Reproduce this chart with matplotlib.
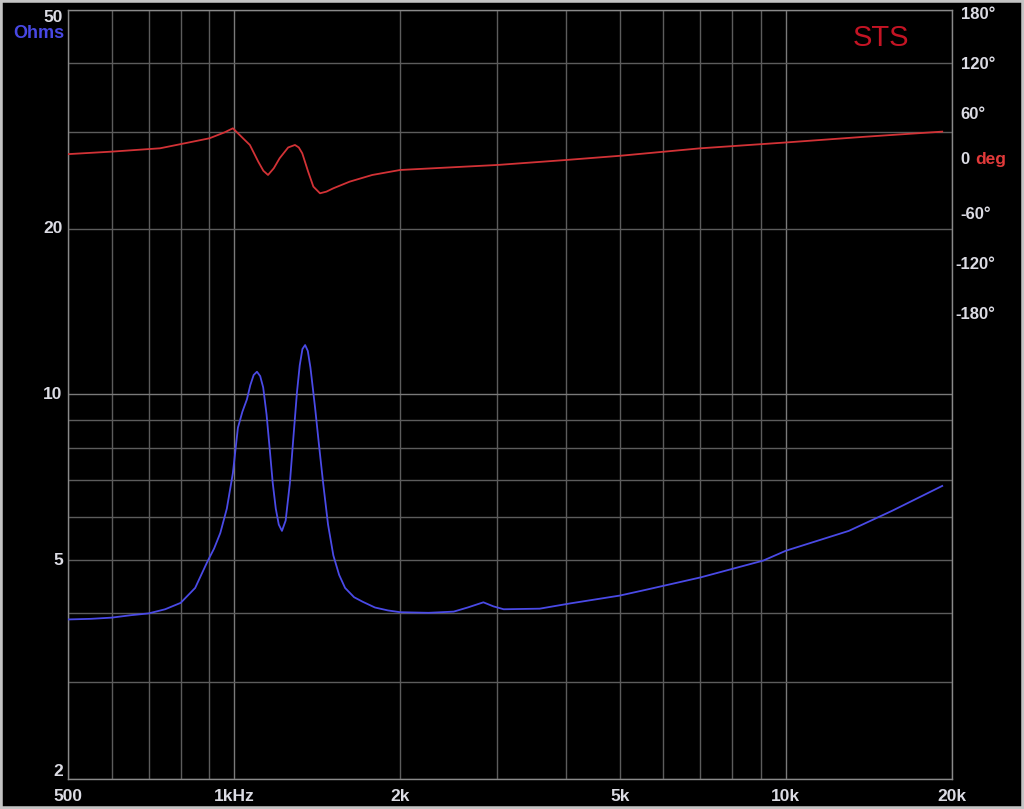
import matplotlib
matplotlib.use("Agg")
import matplotlib.pyplot as plt
from matplotlib.ticker import FixedLocator, NullFormatter, NullLocator
from matplotlib.patches import Rectangle
import matplotlib.transforms as mtransforms

# ---------------- data ----------------
imp_freq = [500, 550, 600, 650, 700, 750, 800, 850, 893, 920, 944, 970, 995,
            1016, 1035, 1055, 1070, 1085, 1100, 1115, 1129, 1145, 1161, 1175,
            1190, 1205, 1221, 1240, 1262, 1280, 1300, 1315, 1330, 1345, 1360,
            1375, 1390, 1403, 1425, 1450, 1480, 1513, 1550, 1589, 1650, 1710,
            1800, 1900, 2000, 2250, 2500, 2650, 2830, 2950, 3080, 3580, 4060,
            5000, 5600, 7000, 9100, 10000, 13000, 15600, 19200]
imp_ohm = [3.90, 3.91, 3.93, 3.97, 4.00, 4.07, 4.18, 4.45, 4.95, 5.25, 5.6,
           6.2, 7.2, 8.7, 9.3, 9.8, 10.4, 10.85, 11.0, 10.8, 10.3, 9.2, 7.9,
           6.9, 6.2, 5.8, 5.65, 5.9, 6.9, 8.3, 10.1, 11.3, 12.1, 12.3, 12.0,
           11.2, 10.2, 9.4, 8.1, 6.9, 5.8, 5.1, 4.7, 4.45, 4.28, 4.2, 4.1,
           4.05, 4.02, 4.01, 4.03, 4.1, 4.19, 4.12, 4.07, 4.08, 4.17, 4.31,
           4.42, 4.65, 4.99, 5.2, 5.65, 6.15, 6.82]

ph_freq = [500, 600, 734, 902, 960, 995, 1038, 1068, 1106, 1130, 1152, 1180,
           1209, 1253, 1289, 1310, 1329, 1362, 1392, 1431, 1470, 1513, 1620,
           1780, 2000, 3000, 4000, 5000, 7000, 10000, 14000, 19200]
ph_deg = [7, 10, 14, 26, 33, 38, 26, 18, -2, -13, -18, -10, 2, 15, 18, 15, 8,
          -14, -32, -40, -38, -34, -26, -18, -12, -6, 0, 5, 14, 21, 28, 34]

x_ticks = [500, 1000, 2000, 5000, 10000, 20000]
x_ticklabels = ["500", "1kHz", "2k", "5k", "10k", "20k"]
y_ticks = [2, 5, 10, 20, 50]
y_ticklabels = ["2", "5", "10", "20", "50"]
ph_ticks = [180, 120, 60, -60, -120, -180]
ph_ticklabels = ["180°", "120°", "60°", "-60°", "-120°", "-180°"]

# ---------------- figure ----------------
W, H = 1024, 809
fig = plt.figure(figsize=(W / 100, H / 100), dpi=100, facecolor="black")
ax = fig.add_axes([68 / W, 1 - 779 / H, 884 / W, 769 / H])
ax.set_facecolor("black")
ax.set_xscale("log")
ax.set_yscale("log")
ax.set_xlim(500, 20000)
ax.set_ylim(2, 50)

grid_minor = "#5c5c5c"
grid_major = "#7a7a7a"
ax.xaxis.set_major_locator(FixedLocator([1000, 10000]))
ax.xaxis.set_minor_locator(FixedLocator([500, 600, 700, 800, 900, 2000, 3000,
                                         4000, 5000, 6000, 7000, 8000, 9000, 20000]))
ax.yaxis.set_major_locator(FixedLocator([10]))
ax.yaxis.set_minor_locator(FixedLocator([2, 3, 4, 5, 6, 7, 8, 9, 20, 30, 40, 50]))
ax.xaxis.set_major_formatter(NullFormatter())
ax.xaxis.set_minor_formatter(NullFormatter())
ax.yaxis.set_major_formatter(NullFormatter())
ax.yaxis.set_minor_formatter(NullFormatter())
ax.grid(True, which="major", color=grid_major, lw=1.0)
ax.grid(True, which="minor", color=grid_minor, lw=1.0)
ax.tick_params(which="both", length=0)
for s in ax.spines.values():
    s.set_color("#8a8a8a")
    s.set_linewidth(1.0)

ax.plot(imp_freq, imp_ohm, color="#4a4ae6", lw=1.3, zorder=5,
        solid_joinstyle="round")

# phase axis
ax2 = ax.twinx()
ax2.set_ylim(-743, 180)
ax2.plot(ph_freq, ph_deg, color="#d23236", lw=1.3, zorder=5,
         solid_joinstyle="round")
ax2.yaxis.set_major_locator(NullLocator())
for s in ax2.spines.values():
    s.set_visible(False)

lab_col = "#dcdce4"
fnt = dict(family="Liberation Sans", weight="bold")

# x tick labels
xt = mtransforms.blended_transform_factory(ax.transData, ax.transAxes)
for v, t in zip(x_ticks, x_ticklabels):
    ax.text(v, -0.013, t, transform=xt, ha="center", va="top", color=lab_col,
            fontsize=12.5, clip_on=False, **fnt)

# left y tick labels
yt = mtransforms.blended_transform_factory(ax.transAxes, ax.transData)
for v, t in zip(y_ticks, y_ticklabels):
    va = "center"
    if v == 50:
        va = "top"
    elif v == 2:
        va = "bottom"
    ax.text(-0.006, v, t, transform=yt, ha="right", va=va, color=lab_col,
            fontsize=12.5, clip_on=False, **fnt)

ax.text(-0.004, 0.970, "Ohms", transform=ax.transAxes, ha="right", va="center",
        color="#4848e4", fontsize=13, clip_on=False, **fnt)

# right phase labels
yt2 = mtransforms.blended_transform_factory(ax2.transAxes, ax2.transData)
for v, t in zip(ph_ticks, ph_ticklabels):
    ha_x = 1.010 if not t.startswith("-1") else 1.004
    ax2.text(ha_x, v - 6, t, transform=yt2, ha="left", va="center",
             color=lab_col, fontsize=12, clip_on=False, **fnt)
ax2.text(1.010, 0, "0", transform=yt2, ha="left", va="center", color=lab_col,
         fontsize=12, clip_on=False, **fnt)
ax2.text(1.026, 0, "deg", transform=yt2, ha="left", va="center",
         color="#e23a3a", fontsize=12.5, clip_on=False, **fnt)

ax.text(0.920, 0.964, "STS", transform=ax.transAxes, ha="center", va="center",
        color="#c41424", fontsize=21, family="Liberation Sans", zorder=6)

# light frame around image
fig.patches.append(Rectangle((0, 0), 1, 1, transform=fig.transFigure,
                             fill=False, edgecolor="#c4c4c4", lw=4))

fig.savefig("out.png", dpi=100, facecolor="black")
